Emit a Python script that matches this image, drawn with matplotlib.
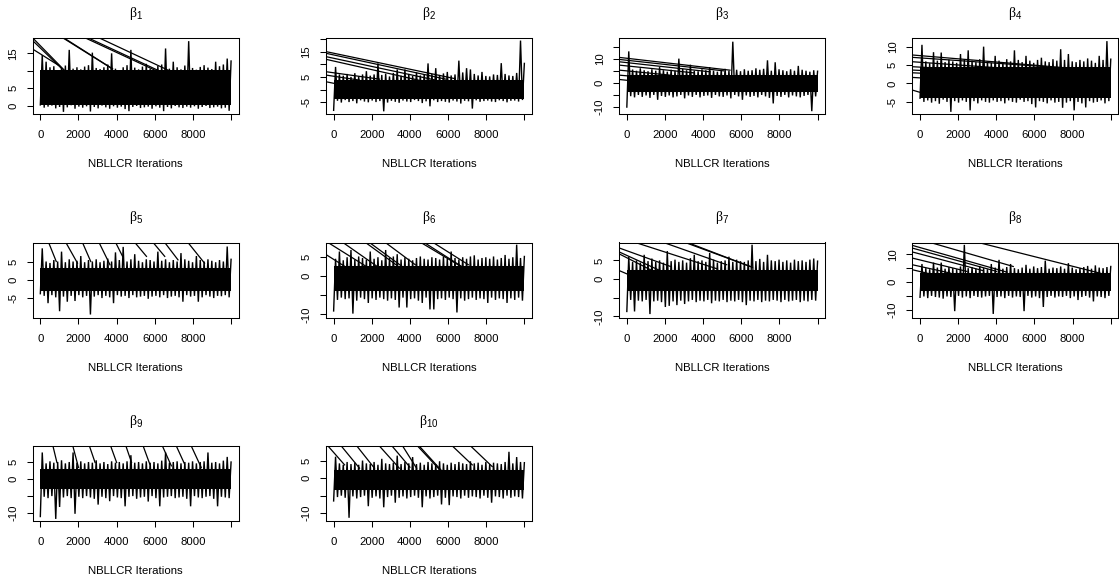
import numpy as np
import matplotlib
matplotlib.use('Agg')
import matplotlib.pyplot as plt

plt.rcParams['font.family'] = ['Liberation Sans', 'DejaVu Sans']
plt.rcParams['mathtext.fontset'] = 'custom'
plt.rcParams['mathtext.rm'] = 'Liberation Serif'
plt.rcParams['mathtext.sf'] = 'Liberation Sans'
plt.rcParams['mathtext.it'] = 'Liberation Serif:italic'

# ---------------- data ----------------
n_iter = 10000
x_label = 'NBLLCR Iterations'
x_ticks = [0, 2000, 4000, 6000, 8000, 10000]
x_ticklabels = ['0', '2000', '4000', '6000', '8000', '']

titles = [r'$\mathrm{\beta}_{\mathsf{%d}}$' % i for i in range(1, 11)]

# dense central part of each trace (where the chain is solid black)
core_lo = [0.3, -3.6, -3.7, -4.0, -3.2, -3.9, -3.3, -3.4, -2.9, -3.3]
core_hi = [10.2, 3.7, 3.2, 4.5, 3.2, 2.6, 2.5, 3.2, 2.9, 2.4]

# per-block (200 iterations) maxima / minima of each chain trace
b1_hi = [14.5, 12.6, 11.0, 11.3, 10.2, 10.8, 11.5, 16.0, 10.6, 11.0,
         10.4, 11.2, 11.6, 15.2, 10.8, 10.5, 11.0, 11.8, 15.0, 10.6,
         10.2, 11.0, 11.6, 16.0, 10.9, 10.4, 11.2, 12.0, 10.6, 10.2,
         11.4, 11.8, 16.4, 10.6, 12.6, 11.0, 10.4, 11.5, 18.5, 10.8,
         10.3, 11.1, 11.6, 10.9, 10.5, 12.6, 11.3, 11.8, 13.5, 12.8]
b1_lo = [0.2, -0.6, -0.3, 0.0, -0.8, -0.4, -1.8, -0.5, 0.1, -0.9,
         -0.3, -0.6, -0.2, -1.7, -0.4, -0.8, 0.0, -0.5, -0.9, -0.2,
         -0.6, -0.3, -1.0, -1.6, -0.4, -0.1, -0.7, -0.5, -0.3, -0.9,
         -0.2, -0.6, -1.6, -0.4, -0.8, -0.1, -0.5, -0.7, -0.3, -0.6,
         -0.2, -0.9, -0.4, -0.1, -0.7, -0.5, -0.3, -0.8, -0.6, -1.5]
b1_lines = [(-381, 19.32, 1461, 9.03), (-381, 18.55, 1148, 10.47), (-381, 16.15, 939, 11.62),
            (1216, 19.32, 3741, 10.67), (1268, 19.32, 3793, 10.53), (2400, 19.32, 6000, 10.18),
            (2556, 19.32, 6260, 9.89), (3130, 19.32, 6954, 9.52)]

b2_hi = [9.0, 6.0, 5.5, 6.2, 5.0, 6.5, 5.2, 6.0, 7.3, 5.5,
         6.0, 10.4, 5.8, 6.3, 5.2, 6.6, 8.0, 5.5, 8.0, 6.2,
         5.4, 6.8, 5.6, 6.0, 10.4, 6.2, 8.5, 5.8, 6.4, 7.0,
         5.6, 6.0, 11.5, 6.8, 8.5, 8.0, 6.2, 5.6, 7.0, 5.4,
         5.2, 6.0, 5.8, 10.5, 6.2, 5.6, 5.4, 6.6, 19.5, 10.4]
b2_lo = [-8.3, -4.5, -5.2, -4.2, -5.0, -4.6, -5.5, -4.3, -4.8, -5.1,
         -4.4, -5.0, -4.6, -8.7, -5.2, -4.5, -4.9, -5.3, -4.4, -4.8,
         -5.0, -4.2, -4.6, -5.4, -4.7, -6.7, -4.3, -5.0, -4.6, -4.9,
         -5.2, -4.4, -4.8, -5.6, -4.5, -4.7, -7.6, -4.3, -4.9, -4.6,
         -4.4, -4.8, -5.0, -4.3, -4.6, -5.1, -4.5, -4.4, -4.8, -4.2]
b2_lines = [(-383, 15.07, 6313, 4.4), (-383, 14.4, 5878, 4.13), (-383, 13.07, 5356, 3.73),
            (-383, 12.0, 4834, 3.07), (-383, 7.07, 2400, 4.13), (-383, 5.73, 1356, 3.73),
            (-383, 3.07, 487, 1.73)]

b3_hi = [13.0, 5.5, 5.0, 6.0, 5.2, 4.8, 5.6, 5.0, 6.5, 5.2,
         4.6, 5.4, 5.0, 10.0, 5.8, 5.2, 7.5, 5.0, 4.8, 5.6,
         5.2, 6.5, 5.0, 4.6, 5.4, 5.8, 5.0, 17.0, 5.4, 4.8,
         5.6, 5.0, 5.2, 6.0, 5.4, 5.8, 9.3, 5.0, 8.5, 5.6,
         5.2, 4.8, 5.6, 5.0, 7.0, 5.4, 5.0, 4.6, 5.2, 4.8]
b3_lo = [-10.0, -5.5, -6.0, -5.0, -5.8, -5.2, -6.2, -5.0, -7.0, -5.4,
         -5.8, -5.2, -6.0, -5.6, -5.0, -6.4, -5.2, -5.8, -5.0, -6.0,
         -5.4, -5.2, -6.2, -5.0, -5.6, -5.8, -5.2, -6.4, -5.0, -5.6,
         -7.0, -5.2, -5.8, -5.4, -6.0, -5.0, -5.6, -6.2, -8.5, -5.4,
         -5.8, -5.0, -6.0, -5.2, -5.6, -6.0, -5.4, -5.0, -11.7, -5.6]
b3_lines = [(-383, 10.5, 5408, 5.24), (-383, 9.66, 5061, 4.97), (-383, 8.69, 4365, 4.55),
            (-383, 7.31, 3495, 4.14), (-383, 5.24, 2278, 3.17), (-383, 3.17, 1061, 2.2),
            (-383, 1.38, 278, 0.83)]

b4_hi = [10.5, 6.0, 5.5, 8.5, 6.2, 8.4, 5.8, 6.5, 6.0, 5.6,
         8.0, 6.4, 9.0, 6.2, 5.8, 6.6, 10.0, 6.0, 5.6, 7.5,
         6.2, 5.8, 6.6, 6.0, 9.0, 6.4, 5.8, 7.5, 6.2, 5.6,
         6.4, 7.0, 6.0, 5.8, 6.6, 6.2, 9.3, 6.4, 8.0, 6.0,
         5.8, 6.4, 6.0, 6.8, 6.2, 5.6, 7.5, 6.4, 11.5, 6.6]
b4_lo = [-4.0, -5.0, -4.6, -5.2, -4.8, -5.5, -4.4, -5.0, -7.7, -4.8,
         -5.2, -4.6, -5.0, -7.3, -4.8, -5.4, -4.6, -5.0, -5.2, -4.6,
         -5.0, -4.8, -5.4, -4.6, -5.0, -5.2, -4.4, -5.0, -4.8, -5.6,
         -6.5, -4.8, -5.0, -5.4, -4.6, -5.2, -5.0, -6.6, -5.2, -4.8,
         -7.3, -5.0, -5.4, -6.5, -4.8, -5.2, -5.0, -4.6, -5.4, -4.8]
b4_lines = [(-383, 7.73, 8017, 4.09), (-383, 7.09, 6626, 4.55), (-383, 5.9, 4539, 4.09),
            (-383, 4.55, 2800, 3.64), (-383, 3.64, 1582, 3.18), (-383, 2.9, 1061, 2.55),
            (-383, 1.64, 539, 1.36), (-383, -1.82, 191, -2.7)]

b5_hi = [8.6, 5.0, 4.6, 5.4, 5.0, 7.7, 4.8, 5.6, 5.0, 5.2,
         6.5, 4.8, 5.4, 5.0, 5.6, 4.8, 5.2, 5.8, 5.0, 7.5,
         5.4, 9.0, 5.0, 5.6, 7.0, 5.2, 4.8, 5.6, 5.4, 5.0,
         7.7, 5.2, 5.6, 4.8, 5.4, 5.0, 7.3, 5.6, 5.2, 4.8,
         6.5, 5.4, 5.0, 5.6, 5.2, 4.8, 5.4, 5.0, 9.1, 5.6]
b5_lo = [-3.8, -4.4, -6.4, -4.2, -4.8, -8.6, -4.6, -6.0, -4.4, -5.8,
         -4.2, -4.8, -4.4, -9.5, -4.6, -4.2, -5.0, -4.4, -4.8, -6.4,
         -4.2, -4.6, -4.4, -5.0, -4.2, -4.8, -4.6, -4.4, -5.2, -4.6,
         -4.4, -4.8, -4.2, -5.0, -4.6, -4.4, -4.8, -6.0, -4.2, -4.6,
         -4.4, -6.0, -4.8, -4.2, -4.6, -5.0, -4.4, -4.5, -4.2, -4.8]
b5_lines = [(435, 10.2, 835, 5.0), (1339, 10.2, 1948, 4.55), (2209, 10.2, 2643, 5.0),
            (3078, 10.2, 3652, 4.1), (3948, 10.2, 4313, 6.4), (4956, 10.2, 5565, 6.4),
            (5913, 10.2, 6522, 6.4), (6522, 10.2, 7217, 5.45), (7739, 10.2, 8609, 4.55)]

b6_hi = [4.6, 6.5, 4.2, 5.0, 6.9, 4.4, 5.2, 4.8, 4.4, 6.5,
         4.6, 5.0, 4.2, 6.9, 4.8, 5.2, 5.8, 4.4, 5.0, 4.6,
         4.2, 4.8, 5.2, 4.6, 4.4, 5.0, 4.8, 4.4, 5.2, 4.6,
         6.5, 4.8, 4.4, 5.0, 4.6, 5.2, 5.5, 4.4, 4.8, 5.0,
         4.6, 5.2, 4.4, 4.8, 5.6, 4.6, 5.0, 8.3, 4.8, 5.2]
b6_lo = [-9.1, -6.2, -5.6, -6.0, -5.8, -9.8, -6.4, -5.6, -6.0, -7.0,
         -5.8, -6.2, -5.6, -6.0, -6.4, -5.8, -6.2, -8.2, -5.6, -8.2,
         -6.0, -5.8, -6.4, -7.0, -5.6, -8.7, -8.7, -6.0, -5.8, -6.2,
         -5.6, -6.0, -9.5, -5.8, -6.4, -6.0, -5.6, -6.2, -5.8, -6.0,
         -7.0, -5.6, -6.2, -5.8, -6.0, -7.0, -5.8, -6.2, -5.6, -6.4]
b6_lines = [(-383, 5.65, 1270, 0.43), (-296, 8.87, 1704, 2.6), (487, 8.87, 2400, 2.17),
            (1670, 8.87, 3270, 3.04), (1878, 8.87, 3583, 2.6), (2713, 8.87, 4278, 3.04),
            (4574, 8.87, 6661, 2.6), (4748, 8.87, 6783, 2.35), (5217, 8.87, 7061, 3.04)]

b7_hi = [6.0, 4.6, 5.0, 4.4, 6.5, 4.8, 5.5, 4.6, 5.0, 4.4,
         7.5, 4.8, 5.2, 4.6, 5.0, 4.4, 5.6, 6.5, 4.8, 5.0,
         4.6, 7.0, 5.2, 4.4, 4.8, 5.0, 6.0, 4.6, 5.2, 4.8,
         4.6, 5.0, 9.2, 4.8, 5.4, 4.6, 6.5, 5.0, 4.8, 5.2,
         4.6, 5.0, 4.4, 5.2, 4.8, 5.0, 4.6, 5.2, 5.5, 4.8]
b7_lo = [-8.7, -5.6, -8.7, -5.8, -6.0, -5.6, -9.4, -6.0, -5.8, -6.2,
         -7.5, -7.2, -6.0, -7.0, -5.8, -6.7, -6.0, -5.6, -6.2, -5.8,
         -6.0, -5.6, -6.5, -5.8, -6.0, -5.6, -6.2, -5.8, -6.0, -5.6,
         -6.2, -7.0, -5.8, -6.0, -5.6, -6.2, -5.8, -6.0, -5.6, -5.8,
         -6.2, -5.6, -6.0, -5.8, -5.6, -6.2, -5.8, -6.0, -5.6, -5.8]
b7_lines = [(-383, 8.3, 2278, 3.39), (-383, 7.23, 1756, 2.23), (-383, 6.7, 1235, 2.5),
            (-383, 2.23, 104, 1.16), (452, 9.8, 4713, 2.77), (1930, 9.8, 5234, 3.84),
            (3061, 9.8, 6452, 3.39), (3183, 9.8, 6590, 3.13)]

b8_hi = [6.5, 5.0, 4.6, 7.0, 5.2, 7.0, 4.8, 5.4, 5.0, 4.6,
         5.6, 13.4, 5.0, 5.4, 4.8, 5.8, 5.0, 4.6, 6.5, 5.2,
         8.0, 4.8, 5.4, 6.5, 5.0, 4.6, 5.2, 6.2, 4.8, 5.6,
         5.0, 5.4, 7.7, 4.8, 5.2, 5.0, 5.6, 4.8, 6.8, 5.2,
         4.6, 5.0, 5.4, 5.8, 4.8, 6.0, 5.2, 5.0, 5.4, 5.6]
b8_lo = [-5.5, -5.2, -5.8, -5.0, -5.4, -5.6, -6.0, -5.2, -5.4, -10.5,
         -5.0, -5.6, -5.2, -5.8, -5.0, -5.4, -5.6, -5.2, -5.0, -11.5,
         -5.4, -5.2, -5.8, -5.0, -5.6, -5.2, -5.4, -10.5, -5.0, -5.6,
         -5.2, -5.8, -9.0, -5.4, -5.0, -5.6, -5.2, -5.4, -5.0, -5.8,
         -5.2, -6.5, -5.4, -5.0, -5.6, -7.0, -5.2, -5.4, -5.8, -5.0]
b8_lines = [(-383, 13.17, 4539, 3.59), (-383, 12.2, 4017, 3.83), (-383, 10.8, 3321, 4.07),
            (-383, 8.6, 2452, 3.83), (-383, 6.2, 1582, 3.23), (-383, 4.4, 713, 2.63),
            (539, 14.25, 4887, 5.6), (3061, 14.25, 9756, 2.63)]

b9_hi = [7.8, 4.6, 5.2, 4.8, 5.0, 5.5, 4.6, 5.0, 7.8, 4.8,
         5.2, 4.6, 5.0, 4.8, 5.5, 4.6, 5.0, 4.4, 5.2, 4.8,
         5.0, 4.6, 5.2, 7.0, 4.8, 5.0, 4.6, 5.2, 4.8, 5.0,
         4.6, 5.4, 7.8, 4.8, 5.0, 5.2, 4.6, 5.0, 4.8, 5.2,
         4.6, 5.0, 5.2, 7.8, 4.8, 5.0, 4.6, 5.4, 6.5, 5.0]
b9_lo = [-11.0, -5.2, -5.6, -5.0, -11.7, -8.2, -5.4, -5.0, -5.6, -10.2,
         -5.2, -5.6, -5.0, -5.4, -5.8, -7.5, -5.2, -5.6, -6.5, -5.0,
         -5.4, -5.6, -8.0, -5.2, -5.0, -5.8, -5.4, -5.2, -6.6, -5.0,
         -5.6, -8.0, -5.4, -5.2, -5.0, -5.6, -5.4, -5.2, -5.8, -8.0,
         -5.0, -5.4, -5.6, -5.2, -5.0, -5.8, -8.0, -5.2, -5.4, -5.6]
b9_lines = [(661, 9.7, 870, 4.85), (1704, 9.7, 2000, 3.4), (2574, 9.7, 2870, 4.85),
            (3687, 9.7, 4000, 4.85), (4487, 9.7, 4782, 4.85), (5391, 9.7, 5739, 4.37),
            (6400, 9.7, 6869, 3.88), (7130, 9.7, 7565, 4.37), (7913, 9.7, 8434, 3.4)]

b10_hi = [6.1, 4.2, 3.8, 4.6, 4.0, 4.4, 3.8, 5.0, 4.2, 4.0,
          4.6, 3.8, 5.5, 4.2, 4.0, 4.4, 6.4, 4.0, 4.6, 4.2,
          6.0, 4.0, 4.4, 3.8, 4.6, 4.2, 4.0, 4.8, 4.2, 3.8,
          4.4, 4.0, 4.6, 4.2, 4.0, 4.8, 4.2, 4.4, 3.8, 4.6,
          4.0, 4.4, 4.2, 4.0, 4.6, 7.5, 4.2, 6.0, 4.6, 4.4]
b10_lo = [-6.5, -5.4, -5.0, -5.6, -11.3, -5.2, -5.8, -5.4, -5.0, -8.0,
          -5.6, -5.2, -5.8, -8.3, -5.4, -5.0, -7.0, -5.6, -5.2, -5.8,
          -5.4, -5.0, -5.6, -8.3, -5.2, -5.8, -5.4, -5.0, -7.5, -5.6,
          -7.7, -5.2, -5.4, -5.8, -5.0, -5.6, -5.2, -5.4, -5.8, -5.0,
          -5.6, -7.0, -5.2, -5.4, -5.8, -5.0, -5.6, -5.2, -5.4, -5.8]
b10_lines = [(-296, 9.15, 574, 3.77), (400, 9.15, 1356, 2.83), (1217, 9.15, 2139, 2.83),
             (2400, 9.15, 3443, 2.83), (3061, 9.15, 4000, 3.11), (3617, 9.15, 4348, 2.83),
             (4400, 9.15, 5530, 2.55), (4487, 9.15, 5652, 2.17), (6226, 9.15, 7269, 3.77),
             (7182, 9.15, 8313, 3.3)]

his = [b1_hi, b2_hi, b3_hi, b4_hi, b5_hi, b6_hi, b7_hi, b8_hi, b9_hi, b10_hi]
los = [b1_lo, b2_lo, b3_lo, b4_lo, b5_lo, b6_lo, b7_lo, b8_lo, b9_lo, b10_lo]
segs = [b1_lines, b2_lines, b3_lines, b4_lines, b5_lines, b6_lines, b7_lines,
        b8_lines, b9_lines, b10_lines]

y_ticks = [[0, 5, 10, 15], [-5, 0, 5, 10, 15, 20], [-10, -5, 0, 5, 10, 15], [-5, 0, 5, 10],
           [-5, 0, 5], [-10, -5, 0, 5], [-10, -5, 0, 5], [-10, -5, 0, 5, 10],
           [-10, -5, 0, 5], [-10, -5, 0, 5]]
y_ticklabels = [['0', '5', '', '15'], ['-5', '', '5', '', '15', ''],
                ['-10', '', '0', '', '10', ''], ['-5', '0', '5', '10'],
                ['-5', '0', '5'], ['-10', '', '0', '5'], ['-10', '', '0', '5'],
                ['-10', '', '0', '', '10'], ['-10', '', '0', '5'], ['-10', '', '0', '5']]

# ---------------- layout ----------------
W, H = 1119, 585
y_lims = [(-2.3, 19.32), (-9.6, 20.4), (-12.7, 18.4), (-8.18, 12.27), (-10.4, 10.2),
          (-10.9, 8.87), (-10.4, 9.8), (-12.9, 14.25), (-12.4, 9.7), (-12.3, 9.15)]
col_left = [32.7, 326.0, 619.2, 912.4]
row_top = [38.3, 242.5, 446.0]
box_w, box_h = 206.0, 75.3

fig = plt.figure(figsize=(W / 100, H / 100), dpi=100)

for k in range(10):
    r, c = divmod(k, 4)
    L, T = col_left[c], row_top[r]
    ax = fig.add_axes([L / W, 1 - (T + box_h) / H, box_w / W, box_h / H])
    hi, lo = his[k], los[k]
    n = len(hi)
    xs = np.linspace(0, n_iter, 2 * n)
    ys = np.empty(2 * n)
    ys[0::2] = lo
    ys[1::2] = hi
    ax.fill_between([0, n_iter], [core_lo[k]] * 2, [core_hi[k]] * 2,
                    color='black', lw=0)
    ax.plot(xs, ys, color='black', lw=1.0, solid_joinstyle='miter')
    for (x0, y0, x1, y1) in segs[k]:
        ax.plot([x0, x1], [y0, y1], color='black', lw=0.9)
    ax.set_xlim(-400, 10400)
    ax.set_ylim(*y_lims[k])
    ax.set_xticks(x_ticks)
    ax.set_xticklabels(x_ticklabels)
    ax.set_yticks(y_ticks[k])
    ax.set_yticklabels(y_ticklabels[k], rotation=90, va='center')
    ax.tick_params(axis='both', direction='out', length=4.5, width=0.75,
                   labelsize=8.2, color='black')
    ax.tick_params(axis='x', pad=7)
    ax.tick_params(axis='y', pad=6)
    for s in ax.spines.values():
        s.set_linewidth(0.75)
        s.set_color('black')
    cx = (L + box_w / 2) / W
    fig.text(cx, 1 - (T - 25) / H, titles[k], ha='center', va='center', fontsize=10)
    fig.text(cx, 1 - (T + box_h + 50) / H, x_label, ha='center', va='center', fontsize=8.2)

fig.savefig('out.png', dpi=100)
